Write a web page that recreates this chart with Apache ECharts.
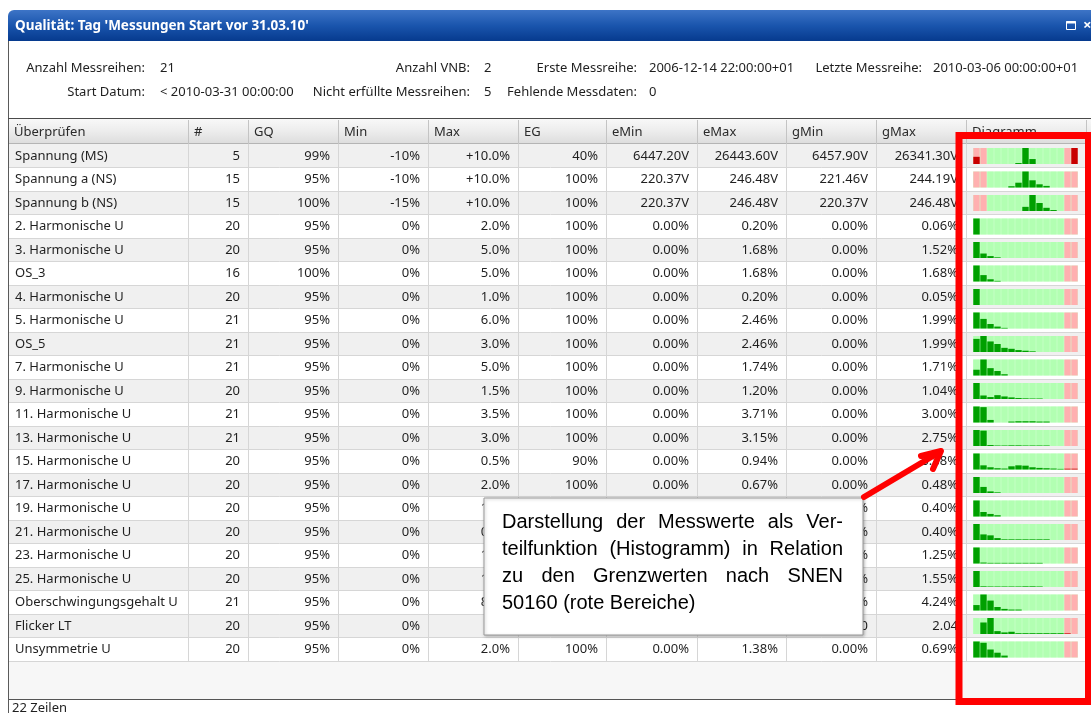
<!DOCTYPE html>
<html><head><meta charset="utf-8">
<script src="https://cdn.jsdelivr.net/npm/echarts@6/dist/echarts.min.js"></script>
<style>html,body{margin:0;padding:0;background:#fff;overflow:hidden}#c{width:1091px;height:713px}</style>
</head><body><div id="c"></div>
<script>
// ---------------- data ----------------
const windowTitle = "Qualität: Tag 'Messungen Start vor 31.03.10'";
const infoLine1 = [["Anzahl Messreihen:", "21"], ["Anzahl VNB:", "2"], ["Erste Messreihe:", "2006-12-14 22:00:00+01"], ["Letzte Messreihe:", "2010-03-06 00:00:00+01"]];
const infoLine2 = [["Start Datum:", "< 2010-03-31 00:00:00"], ["Nicht erfüllte Messreihen:", "5"], ["Fehlende Messdaten:", "0"]];
const columnTitles = ["Überprüfen", "#", "GQ", "Min", "Max", "EG", "eMin", "eMax", "gMin", "gMax", "Diagramm", ""];
const rowNames = ["Spannung (MS)", "Spannung a (NS)", "Spannung b (NS)", "2. Harmonische U", "3. Harmonische U", "OS_3", "4. Harmonische U", "5. Harmonische U", "OS_5", "7. Harmonische U", "9. Harmonische U", "11. Harmonische U", "13. Harmonische U", "15. Harmonische U", "17. Harmonische U", "19. Harmonische U", "21. Harmonische U", "23. Harmonische U", "25. Harmonische U", "Oberschwingungsgehalt U", "Flicker LT", "Unsymmetrie U"];
const counts = [5, 15, 15, 20, 20, 16, 20, 21, 21, 21, 20, 21, 21, 20, 20, 20, 20, 20, 20, 21, 20, 20];
const gq = ["99%", "95%", "100%", "95%", "95%", "100%", "95%", "95%", "95%", "95%", "95%", "95%", "95%", "95%", "95%", "95%", "95%", "95%", "95%", "95%", "95%", "95%"];
const minLimit = ["-10%", "-10%", "-15%", "0%", "0%", "0%", "0%", "0%", "0%", "0%", "0%", "0%", "0%", "0%", "0%", "0%", "0%", "0%", "0%", "0%", "0%", "0%"];
const maxLimit = ["+10.0%", "+10.0%", "+10.0%", "2.0%", "5.0%", "5.0%", "1.0%", "6.0%", "3.0%", "5.0%", "1.5%", "3.5%", "3.0%", "0.5%", "2.0%", "1.5%", "0.5%", "1.5%", "1.5%", "8.0%", "1", "2.0%"];
const egValues = ["40%", "100%", "100%", "100%", "100%", "100%", "100%", "100%", "100%", "100%", "100%", "100%", "100%", "90%", "100%", "100%", "100%", "100%", "100%", "100%", "100%", "100%"];
const eMin = ["6447.20V", "220.37V", "220.37V", "0.00%", "0.00%", "0.00%", "0.00%", "0.00%", "0.00%", "0.00%", "0.00%", "0.00%", "0.00%", "0.00%", "0.00%", "0.00%", "0.00%", "0.00%", "0.00%", "0.00%", "0.00", "0.00%"];
const eMax = ["26443.60V", "246.48V", "246.48V", "0.20%", "1.68%", "1.68%", "0.20%", "2.46%", "2.46%", "1.74%", "1.20%", "3.71%", "3.15%", "0.94%", "0.67%", "0.52%", "0.51%", "1.43%", "1.82%", "4.87%", "2.31", "1.38%"];
const gMin = ["6457.90V", "221.46V", "220.37V", "0.00%", "0.00%", "0.00%", "0.00%", "0.00%", "0.00%", "0.00%", "0.00%", "0.00%", "0.00%", "0.00%", "0.00%", "0.00%", "0.00%", "0.00%", "0.00%", "0.00%", "0.20", "0.00%"];
const gMax = ["26341.30V", "244.19V", "246.48V", "0.06%", "1.52%", "1.68%", "0.05%", "1.99%", "1.99%", "1.71%", "1.04%", "3.00%", "2.75%", "0.88%", "0.48%", "0.40%", "0.40%", "1.25%", "1.55%", "4.24%", "2.04", "0.69%"];
// histogram bins (15 per row), height relative to the tallest bin
const histBins = ["b1","b2","b3","b4","b5","b6","b7","b8","b9","b10","b11","b12","b13","b14","b15"];
const histograms = [
  [45,0,0,0,0,0,6,100,31,0,0,0,0,0,100],
  [0,0,0,0,0,8,30,100,45,20,10,0,0,0,0],
  [0,0,0,0,0,0,0,26,100,50,20,6,0,0,0],
  [100,0,0,0,0,0,0,0,0,0,0,0,0,0,0],
  [100,28,12,4,0,0,0,0,0,0,0,0,0,0,0],
  [100,40,14,4,0,0,0,0,0,0,0,0,0,0,0],
  [100,0,0,0,0,0,0,0,0,0,0,0,0,0,0],
  [100,60,28,12,4,0,0,0,0,0,0,0,0,0,0],
  [82,100,66,50,26,20,12,8,4,0,0,0,0,0,0],
  [36,100,46,28,8,0,0,0,0,0,0,0,0,0,0],
  [100,22,12,24,16,10,6,4,3,3,0,0,0,0,0],
  [100,96,16,0,0,6,8,8,8,6,6,0,0,0,0],
  [100,96,6,3,3,4,4,3,3,3,3,0,0,0,0],
  [100,26,14,8,6,20,26,24,14,10,8,6,4,5,5],
  [100,38,10,4,0,0,0,0,0,0,0,0,0,0,0],
  [100,28,16,8,0,0,0,0,0,0,0,0,0,0,0],
  [100,35,29,12,4,4,4,4,4,4,4,0,0,0,0],
  [100,6,4,4,4,4,4,4,4,4,0,0,0,0,0],
  [100,4,3,3,3,3,3,4,4,3,0,0,0,0,0],
  [34,100,62,22,10,6,6,0,0,0,0,0,0,0,0],
  [0,72,100,18,10,14,5,5,5,5,5,5,5,4,0],
  [100,92,50,30,12,0,0,0,0,0,0,0,0,0,0]
];
// number of limit-violation bins at each end of the histogram
const redBinsLeft = [2,2,2,0,0,0,0,0,0,0,0,0,0,0,0,0,0,0,0,0,0,0];
const redBinsRight = [2,2,2,2,2,2,2,2,2,2,2,2,2,2,2,2,2,2,2,2,2,2];
const rowCountLabel = "22 Zeilen";
const calloutLines = ["Darstellung der Messwerte als Ver-", "teilfunktion (Histogramm) in Relation", "zu den Grenzwerten nach SNEN", "50160 (rote Bereiche)"];

// ---------------- layout ----------------
const colEdges = [8, 188, 248, 338, 428, 518, 606, 697, 786, 876, 966, 1086, 1140];
const ROW_TOP = 144, ROW_H = 23.5, HEAD_TOP = 119;
const FONT = '"Noto Sans", "DejaVu Sans", sans-serif';
const TXT = '#1f1f1f';
const G = [];
function txt(x, y, s, o) {
  o = o || {};
  const a = o.align || 'left', va = o.va || 'middle';
  G.push({type: 'text', x: x, y: y, z: o.z == null ? 4 : o.z, silent: true,
    style: {text: s, fill: o.fill || TXT, fontSize: o.size || 13, fontFamily: o.family || FONT,
      fontWeight: o.weight || 'normal', textAlign: a, align: a, textVerticalAlign: va, verticalAlign: va}});
}
function rect(x, y, w, h, fill, o) {
  o = o || {};
  G.push({type: 'rect', z: o.z == null ? 0 : o.z, silent: true, shape: {x: x, y: y, width: w, height: h, r: o.r || 0},
    style: {fill: fill, stroke: o.stroke || null, lineWidth: o.lw || 0, shadowBlur: o.shadowBlur || 0, shadowColor: o.shadowColor || 'transparent', shadowOffsetX: o.sx || 0, shadowOffsetY: o.sy || 0}});
}
function line(x1, y1, x2, y2, stroke, lw, z) {
  G.push({type: 'line', z: z == null ? 1 : z, silent: true, shape: {x1: x1, y1: y1, x2: x2, y2: y2}, style: {stroke: stroke, lineWidth: lw || 1}});
}
const grad = (a, b, c) => new echarts.graphic.LinearGradient(0, 0, 0, 1, c ? [{offset: 0, color: a}, {offset: 0.5, color: b}, {offset: 1, color: c}] : [{offset: 0, color: a}, {offset: 1, color: b}]);

// title bar
rect(8, 10, 1100, 31, grad('#3d74c6', '#1a55ad', '#063a8e'), {r: [6, 0, 0, 0]});
txt(15, 26, windowTitle, {fill: '#ffffff', weight: 'bold', size: 13.5});
rect(1066.5, 21.5, 9, 8, null, {stroke: '#ffffff', lw: 1, z: 2});
line(1066, 22.5, 1076, 22.5, '#ffffff', 2, 2);
txt(1083, 26, '×', {fill: '#ffffff', size: 15, weight: 'bold'});

// info area
rect(8, 41, 1100, 78, '#ffffff');
const info1X = [[145, 160], [470, 484], [637, 649], [922, 933]];
infoLine1.forEach((p, k) => { txt(info1X[k][0], 68, p[0], {align: 'right'}); txt(info1X[k][1], 68, p[1]); });
const info2X = [[145, 160], [470, 484], [637, 649]];
infoLine2.forEach((p, k) => { txt(info2X[k][0], 92, p[0], {align: 'right'}); txt(info2X[k][1], 92, p[1]); });

// header
rect(9, HEAD_TOP, 1100, ROW_TOP - HEAD_TOP, grad('#f8f8f8', '#ececec', '#dcdcdc'));
columnTitles.forEach((t, c) => { if (t) txt(colEdges[c] + 6, 132, t, {fill: '#2a2a2a'}); });
line(8, ROW_TOP - 0.5, 1100, ROW_TOP - 0.5, '#b4b4b4', 1, 1);

// rows
rowNames.forEach((nm, i) => {
  const top = ROW_TOP + ROW_H * i;
  rect(9, top, 1100, ROW_H, i % 2 === 0 ? '#f0f0f0' : '#ffffff');
  const yb = Math.floor(top + ROW_H) + 0.5;
  line(9, yb, 1100, yb, '#d6d6d6', 1, 1);
  const cy = top + 12;
  txt(colEdges[0] + 7, cy, nm);
  const cells = [String(counts[i]), gq[i], minLimit[i], maxLimit[i], egValues[i], eMin[i], eMax[i], gMin[i], gMax[i]];
  cells.forEach((v, k) => txt(colEdges[k + 2] - 8, cy, v, {align: 'right'}));
});
const tableBottom = ROW_TOP + ROW_H * rowNames.length;
for (let c = 1; c < colEdges.length - 1; c++) {
  const x = colEdges[c] + 0.5;
  line(x, HEAD_TOP + 1, x, ROW_TOP, '#c4c4c4', 1, 1);
  line(x, ROW_TOP, x, tableBottom, '#d6d6d6', 1, 1);
}
// empty space + footer
rect(9, tableBottom, 1100, 699 - tableBottom, '#f7f7f7');
line(8, 699.5, 1100, 699.5, '#555555', 1, 1);
rect(9, 700, 1100, 20, '#ffffff');
txt(12, 702, rowCountLabel, {va: 'top'});
// window borders
line(8.5, 41, 8.5, 713, '#5a5a5a', 1, 3);
line(8, 118.5, 1100, 118.5, '#4a4a4a', 1, 3);

// callout box with justified text
rect(484, 498, 379, 137, '#ffffff', {stroke: '#9a9a9a', lw: 1, z: 100, shadowBlur: 3, shadowColor: 'rgba(0,0,0,0.25)', sx: 1, sy: 1});
(function () {
  const CF = '"Liberation Sans", Arial, sans-serif';
  const ctx = document.createElement('canvas').getContext('2d');
  ctx.font = '20px "Liberation Sans"';
  const L = 502, R = 843;
  calloutLines.forEach((ln, k) => {
    const y = 522 + 27 * k;
    const words = ln.split(' ');
    if (k < calloutLines.length - 1 && words.length > 1) {
      const ws = words.map(w => ctx.measureText(w).width);
      const gap = (R - L - ws.reduce((s, w) => s + w, 0)) / (words.length - 1);
      let x = L;
      words.forEach((w, j) => { txt(x, y, w, {size: 20, family: CF, fill: '#000', z: 101}); x += ws[j] + gap; });
    } else {
      txt(L, y, ln, {size: 20, family: CF, fill: '#000', z: 101});
    }
  });
})();
// red arrow
G.push({type: 'polyline', z: 102, silent: true, shape: {points: [[864, 497], [938, 453]]}, style: {stroke: '#ff0000', lineWidth: 6, lineCap: 'round'}});
G.push({type: 'polyline', z: 102, silent: true, shape: {points: [[921, 456], [941, 451], [933, 469]]}, style: {stroke: '#ff0000', fill: null, lineWidth: 6, lineCap: 'round', lineJoin: 'round'}});
// red highlight frame
G.push({type: 'rect', z: 103, silent: true, shape: {x: 959, y: 135.5, width: 129.5, height: 566}, style: {fill: null, stroke: '#ff0000', lineWidth: 7}});

// ---------------- histograms (one small grid per row) ----------------
const grids = [], xAxes = [], yAxes = [], series = [];
histograms.forEach((vals, i) => {
  const top = ROW_TOP + ROW_H * i + 4;
  grids.push({left: 973, top: top, width: 105, height: 16, show: true, backgroundColor: '#d2ffd2', borderWidth: 0, z: 1});
  xAxes.push({type: 'category', gridIndex: i, data: histBins, show: false, boundaryGap: true});
  yAxes.push({type: 'value', gridIndex: i, min: 0, max: 100, show: false});
  const isRed = b => b < redBinsLeft[i] || b >= histBins.length - redBinsRight[i];
  series.push({type: 'bar', xAxisIndex: i, yAxisIndex: i, silent: true, barWidth: 6.4, z: 2, animation: false,
    data: histBins.map((b, k) => ({value: 100, itemStyle: {color: isRed(k) ? '#ffb0b0' : '#b2ffb2'}}))});
  series.push({type: 'bar', xAxisIndex: i, yAxisIndex: i, silent: true, barWidth: 6.4, barGap: '-100%', z: 3, animation: false,
    data: vals.map((v, k) => ({value: v, itemStyle: {color: isRed(k) ? '#c80000' : '#00a000'}}))});
});

const chart = echarts.init(document.getElementById('c'), null, {renderer: 'canvas', width: 1091, height: 713});
chart.setOption({
  animation: false,
  backgroundColor: '#ffffff',
  grid: grids, xAxis: xAxes, yAxis: yAxes, series: series,
  graphic: {elements: G}
});
</script></body></html>
